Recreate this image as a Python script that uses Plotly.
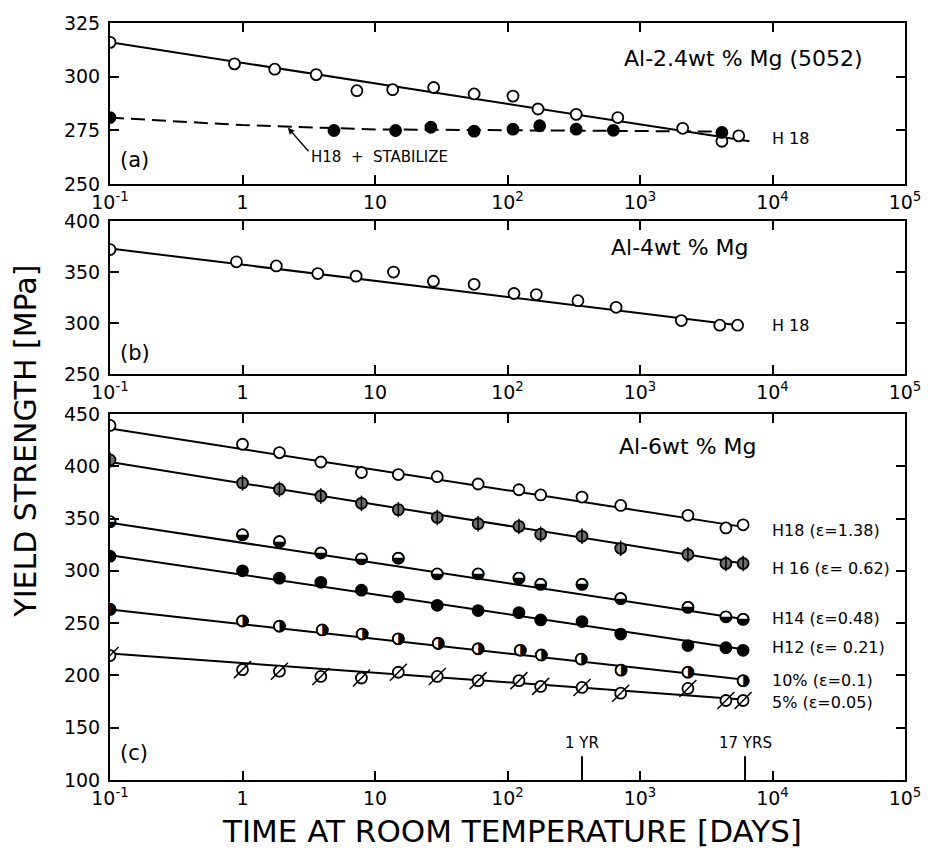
import numpy as np
import plotly.graph_objects as go

# ---------------- data ----------------
# (a) Al-2.4wt% Mg (5052)
a_h18_days = [0.1, 0.87, 1.75, 3.6, 7.3, 13.6, 27.7, 56, 110, 170, 330, 680, 2100, 4150, 5560]
a_h18_ys = [316, 306, 303.5, 301, 293.5, 294, 295, 292, 291, 285, 282.5, 281, 276, 270, 272.5]
a_h18_fit_days = [0.1, 6700]
a_h18_fit_ys = [316, 270]
a_stab_days = [0.1, 4.9, 14.3, 26.4, 56, 110, 175, 330, 630, 4150]
a_stab_ys = [281, 275, 275, 276.5, 274.7, 275.6, 277.2, 275.6, 275.1, 274.1]
a_stab_fit_days = [0.1, 1, 10, 4200]
a_stab_fit_ys = [281, 277.5, 275.5, 274.5]

# (b) Al-4wt% Mg
b_days = [0.1, 0.9, 1.8, 3.7, 7.2, 13.8, 27.6, 56, 112, 165, 340, 660, 2050, 4000, 5450]
b_ys = [372, 360, 356, 348.5, 346, 350, 341, 338, 329, 328, 322, 315.5, 302.5, 298, 298]
b_fit_days = [0.1, 5500]
b_fit_ys = [373, 298]

# (c) Al-6wt% Mg
c_days = [0.1, 1, 1.9, 3.9, 7.9, 15, 29.5, 60, 122, 178, 365, 715, 2300, 4450, 6000]
c_h18 = [439, 421, 413, 404, 394, 392, 390, 383, 377.5, 372.5, 370.5, 362.5, 353, 341, 344]
c_h16 = [406, 384, 378, 371.5, 364.5, 358.5, 351, 345, 342.5, 335, 333, 321.5, 315.5, 307, 307]
c_h14 = [347, 334.5, 328, 317, 311.5, 312, 297, 297, 293, 287, 287, 273.5, 265, 256, 253.5]
c_h12 = [314, 300, 293, 289, 281.5, 275, 267, 262, 260, 253, 251.5, 239.5, 228.5, 226.5, 224]
c_p10_days = [0.1, 1, 1.9, 4, 8, 15, 30, 60, 125, 180, 360, 720, 2300, 6000]
c_p10 = [263, 252, 247, 243.5, 239.5, 235, 230.5, 225.5, 224, 219.5, 215.5, 205, 203, 195]
c_p5 = [219, 205.5, 204, 199, 197.5, 203, 199, 195, 195, 189.5, 188.5, 183, 187.5, 176, 176]
c_fit_days = [0.1, 6000]
c_fits = {
    "H18": [436, 342], "H16": [404, 307], "H14": [346, 254],
    "H12": [315, 225], "10%": [263, 196], "5%": [221, 177],
}
c_labels = ["H18 (ε=1.38)", "H 16 (ε= 0.62)", "H14 (ε=0.48)",
            "H12 (ε= 0.21)", "10% (ε=0.1)", "5% (ε=0.05)"]
c_label_ys = [338.5, 302.5, 254, 226.5, 195, 174]

x_ticks = [0.1, 1, 10, 100, 1000, 10000, 100000]
x_ticktext = ["10<sup>-1</sup>", "1", "10", "10<sup>2</sup>", "10<sup>3</sup>",
              "10<sup>4</sup>", "10<sup>5</sup>"]
one_year = 365
seventeen_years = 17 * 365

FONT = "DejaVu Sans, sans-serif"
BLK = "black"
MS = 11
NB = "\u00a0"

fig = go.Figure()


def line(xs, ys, ax, dash="solid"):
    fig.add_trace(go.Scatter(x=xs, y=ys, mode="lines", xaxis=ax[0], yaxis=ax[1],
                             line=dict(color=BLK, width=2, dash=dash),
                             hoverinfo="skip", showlegend=False))


def pts(xs, ys, ax, symbol="circle", fill="white", size=MS, lw=1.8):
    fig.add_trace(go.Scatter(x=xs, y=ys, mode="markers", xaxis=ax[0], yaxis=ax[1],
                             marker=dict(symbol=symbol, size=size, color=fill,
                                         line=dict(color=BLK, width=lw)),
                             showlegend=False))


def glyph(xs, ys, ax, ch, size=16):
    fig.add_trace(go.Scatter(x=xs, y=ys, mode="text", xaxis=ax[0], yaxis=ax[1],
                             text=[ch] * len(xs), textposition="middle center",
                             textfont=dict(family="DejaVu Sans", size=size, color=BLK),
                             showlegend=False))


A = ("x", "y")
B = ("x2", "y2")
C = ("x3", "y3")

# panel (a)
line(a_h18_fit_days, a_h18_fit_ys, A)
line(a_stab_fit_days, a_stab_fit_ys, A, dash="14px,7px")
pts(a_h18_days, a_h18_ys, A)
pts(a_stab_days, a_stab_ys, A, fill=BLK)

# panel (b)
line(b_fit_days, b_fit_ys, B)
pts(b_days, b_ys, B)

# panel (c)
for key in c_fits:
    line(c_fit_days, c_fits[key], C)
pts(c_days, c_h18, C)
pts(c_days, c_h16, C, fill="#6e6e6e")
pts(c_days, c_h16, C, symbol="line-ns", size=MS, lw=1.5)
pts(c_days, c_h14, C)
glyph(c_days, c_h14, C, "◒")
pts(c_days, c_h12, C, fill=BLK)
pts(c_p10_days, c_p10, C)
glyph(c_p10_days, c_p10, C, "◑")
pts(c_days, c_p5, C)
pts(c_days, c_p5, C, symbol="line-ne", size=17, lw=1.5)

# ---------------- axes ----------------
axis_common = dict(showline=True, linecolor=BLK, linewidth=2, mirror="ticks",
                   ticks="inside", ticklen=9, tickwidth=2, tickcolor=BLK,
                   showgrid=False, zeroline=False,
                   tickfont=dict(family=FONT, size=19, color=BLK))
xcommon = dict(axis_common, type="log", range=[-1, 5], tickvals=x_ticks,
               ticktext=x_ticktext)

fig.update_layout(
    width=933, height=850,
    margin=dict(l=110, r=18, t=19, b=70),
    paper_bgcolor="white", plot_bgcolor="white",
    font=dict(family=FONT, color=BLK),
    xaxis=dict(xcommon, anchor="y"),
    xaxis2=dict(xcommon, anchor="y2", matches="x"),
    xaxis3=dict(xcommon, anchor="y3", matches="x"),
    yaxis=dict(axis_common, domain=[0.787, 1.0], range=[250, 325],
               tickvals=[250, 275, 300, 325], anchor="x", ticklabelstandoff=4),
    yaxis2=dict(axis_common, domain=[0.536, 0.7385], range=[250, 400],
                tickvals=[250, 300, 350, 400], anchor="x2", ticklabelstandoff=4),
    yaxis3=dict(axis_common, domain=[0.0, 0.4836], range=[100, 450],
                tickvals=[100, 150, 200, 250, 300, 350, 400, 450], anchor="x3",
                ticklabelstandoff=4),
)

ann = []
lg = np.log10


def text(x, y, s, ax, size=15, anchor="left", **kw):
    ann.append(dict(x=lg(x), y=y, xref=ax[0], yref=ax[1], text=s, showarrow=False,
                    xanchor=anchor, yanchor="middle",
                    font=dict(family=FONT, size=size, color=BLK), **kw))


# panel titles
text(6000, 308.5, "Al-2.4wt % Mg (5052)", A, size=22, anchor="center")
text(2000, 374, "Al-4wt % Mg", B, size=22, anchor="center")
text(2300, 418.5, "Al-6wt % Mg", C, size=22, anchor="center")

# curve labels
text(9500, 271.5, "H 18", A, size=16)
text(9500, 298, "H 18", B, size=16)
for lab, yv in zip(c_labels, c_label_ys):
    text(9500, yv, lab, C, size=16)

# stabilize arrow + label
ann.append(dict(x=lg(2.2), y=276.3, xref="x", yref="y", text="", showarrow=True,
                arrowhead=2, arrowsize=1, arrowwidth=1.3, arrowcolor=BLK,
                ax=22, ay=25))
text(3.2, 262.5, f"H18{NB}{NB}+{NB}{NB}STABILIZE", A, size=15)

# 1 YR / 17 YRS markers
text(one_year, 135, "1 YR", C, size=15, anchor="center")
text(seventeen_years, 135, "17 YRS", C, size=15, anchor="center")

# panel letters
for s, xr, yr, yy in [("(a)", "x domain", "y domain", 0.15),
                      ("(b)", "x2 domain", "y2 domain", 0.14),
                      ("(c)", "x3 domain", "y3 domain", 0.075)]:
    ann.append(dict(x=0.01, y=yy, xref=xr, yref=yr, text=s, showarrow=False,
                    xanchor="left", yanchor="middle",
                    font=dict(family=FONT, size=21, color=BLK)))

# axis titles
ann.append(dict(x=-0.1056, y=0.447, xref="paper", yref="paper", textangle=-90,
                xanchor="center", yanchor="middle",
                text="YIELD STRENGTH [MPa]", showarrow=False,
                font=dict(family=FONT, size=30, color=BLK)))
ann.append(dict(x=0.5056, y=-0.068, xref="paper", yref="paper",
                xanchor="center", yanchor="middle",
                text="TIME AT ROOM TEMPERATURE [DAYS]", showarrow=False,
                font=dict(family=FONT, size=31, color=BLK)))

fig.update_layout(annotations=ann)

# long tick marks at 1 year and 17 years
for d in (one_year, seventeen_years):
    fig.add_shape(type="line", xref="x3", yref="y3 domain",
                  x0=d, x1=d, y0=0, y1=0.065,
                  line=dict(color=BLK, width=2))

fig.write_html("out.html")
